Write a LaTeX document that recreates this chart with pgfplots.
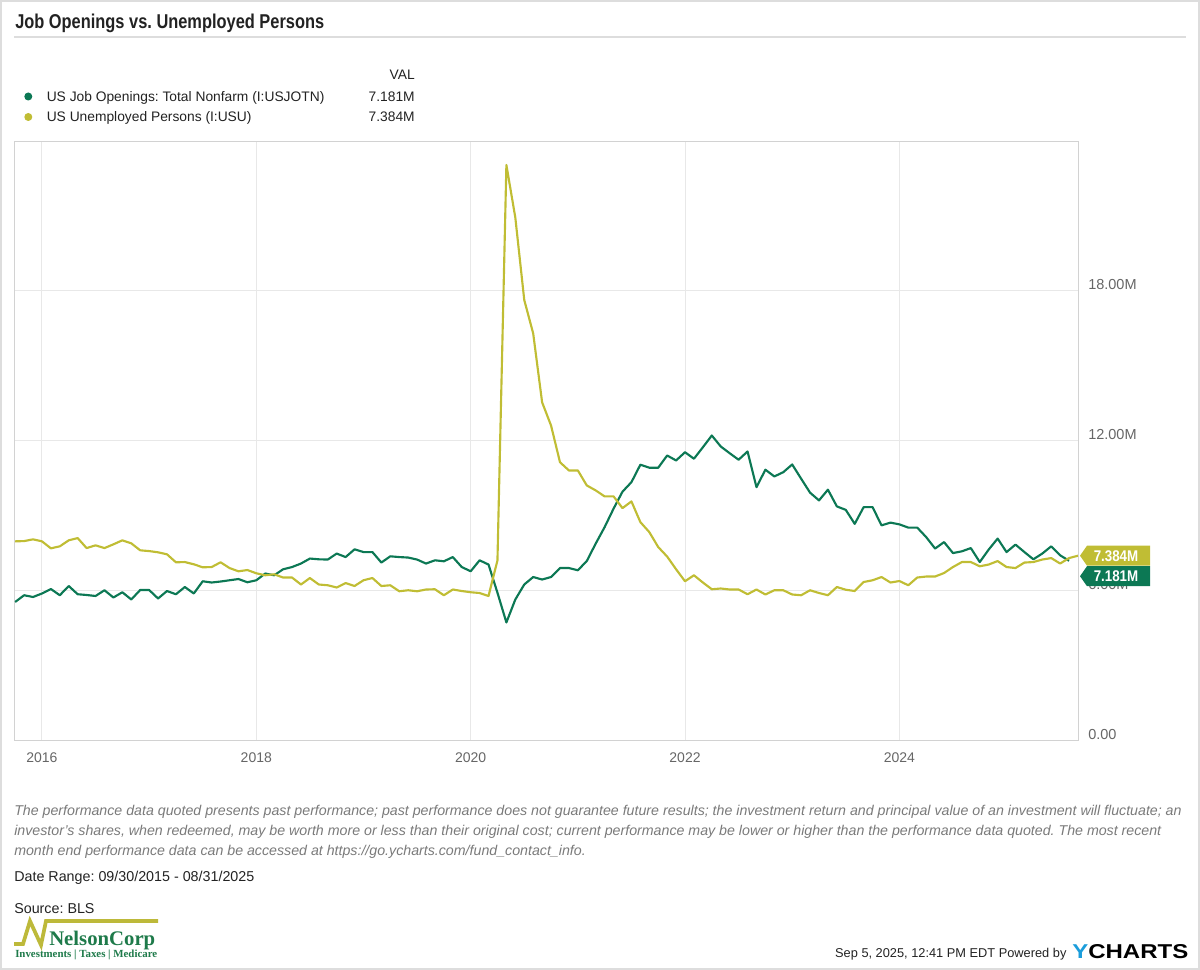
\documentclass[border=0pt]{standalone}
\usepackage{fontspec}
\setmainfont{Liberation Sans}
\newfontfamily\logoserif{Liberation Serif}
\usepackage{graphicx}
\usepackage{pgfplots}
\usepackage{pgfplotstable}
\pgfplotsset{compat=1.18}
\frenchspacing

\definecolor{jogreen}{HTML}{0C7854}
\definecolor{unyellow}{HTML}{C0BD34}
\definecolor{tickgray}{HTML}{666666}
\definecolor{gridgray}{HTML}{E8E8E8}
\definecolor{axisgray}{HTML}{D2D2D2}
\definecolor{framegray}{HTML}{DDDDDD}
\definecolor{notegray}{HTML}{7A7A7A}
\definecolor{darktext}{HTML}{222222}
\definecolor{ycblue}{HTML}{1B9DDB}
\definecolor{ncgreen}{HTML}{1E7A4A}
\definecolor{ncyellow}{HTML}{BDB93A}

% font size given in pixels of the reference (1px = 0.75pt)
\newcommand\px[1]{\fontsize{\fpeval{#1*0.75}pt}{\fpeval{#1*0.9}pt}\selectfont}

% m = months since 09/2015 (month-end), values in millions
\pgfplotstableread{
m   jo     un
0   5.53   7.96
1   5.80   7.97
2   5.73   8.04
3   5.87   7.96
4   6.05   7.68
5   5.80   7.76
6   6.17   8.00
7   5.84   8.09
8   5.81   7.69
9   5.77   7.80
10  6.00   7.69
11  5.71   7.84
12  5.92   8.00
13  5.63   7.88
14  6.01   7.60
15  6.01   7.57
16  5.67   7.52
17  5.97   7.44
18  5.84   7.12
19  6.13   7.13
20  5.87   7.04
21  6.36   6.92
22  6.31   6.93
23  6.35   7.12
24  6.40   6.89
25  6.45   6.76
26  6.32   6.81
27  6.40   6.68
28  6.67   6.60
29  6.60   6.64
30  6.84   6.51
31  6.93   6.51
32  7.07   6.23
33  7.27   6.49
34  7.24   6.23
35  7.23   6.20
36  7.47   6.11
37  7.33   6.29
38  7.64   6.17
39  7.53   6.40
40  7.53   6.49
41  7.11   6.17
42  7.36   6.20
43  7.33   5.96
44  7.31   6.00
45  7.23   5.96
46  7.07   6.03
47  7.20   6.04
48  7.16   5.80
49  7.33   6.03
50  6.93   5.97
51  6.76   5.92
52  7.20   5.89
53  7.03   5.77
54  5.90   7.20
55  4.71   23.04
56  5.63   20.93
57  6.23   17.63
58  6.53   16.29
59  6.43   13.53
60  6.53   12.60
61  6.89   11.13
62  6.89   10.80
63  6.80   10.80
64  7.17   10.20
65  7.87   10.00
66  8.53   9.76
67  9.27   9.76
68  9.95   9.29
69  10.33  9.56
70  11.03  8.73
71  10.91  8.33
72  10.91  7.73
73  11.40  7.35
74  11.20  6.84
75  11.53  6.36
76  11.27  6.60
77  11.73  6.31
78  12.20  6.04
79  11.76  6.07
80  11.49  6.03
81  11.23  6.03
82  11.56  5.84
83  10.13  6.03
84  10.83  5.83
85  10.56  6.00
86  10.73  6.00
87  11.04  5.83
88  10.47  5.80
89  9.91   6.00
90  9.60   5.89
91  10.03  5.80
92  9.36   6.13
93  9.22   6.02
94  8.66   5.97
95  9.33   6.33
96  9.33   6.40
97  8.60   6.53
98  8.71   6.31
99  8.64   6.37
100 8.51   6.20
101 8.51   6.51
102 8.13   6.55
103 7.67   6.55
104 7.93   6.69
105 7.49   6.93
106 7.56   7.13
107 7.69   7.13
108 7.13   6.96
109 7.63   7.03
110 8.07   7.17
111 7.53   6.93
112 7.83   6.89
113 7.53   7.11
114 7.24   7.13
115 7.47   7.23
116 7.76   7.29
117 7.40   7.07
118 7.181  7.29
119 nan    7.384
}\data

\begin{document}
\begin{tikzpicture}
\begin{axis}[
    at={(10.5pt,-555pt)}, anchor=south west,
    scale only axis, width=798pt, height=449.25pt,
    xmin=-0.13, xmax=119, ymin=0, ymax=24,
    xtick={3,27,51,75,99},
    xticklabels={2016,2018,2020,2022,2024},
    ytick={0,6,12,18},
    yticklabels={0.00,6.00M,12.00M,18.00M},
    yticklabel pos=right,
    xmajorgrids, ymajorgrids,
    grid style={gridgray, line width=0.75pt},
    major tick length=0pt,
    axis line style={axisgray, line width=0.75pt},
    tick label style={text=tickgray, inner sep=0pt},
    xticklabel style={font=\px{14}, anchor=base, yshift=-16.5pt},
    yticklabel style={font=\px{14.5}, anchor=base west, xshift=7.5pt, yshift=0.75pt},
]
\addplot[jogreen, line width=1.6pt, line join=round] table[x=m, y=jo] {\data};
\addplot[unyellow, line width=1.6pt, line join=round] table[x=m, y=un] {\data};
\coordinate (ytag) at (axis cs:119,7.384);
\end{axis}

\begin{scope}[x=0.75pt, y=-0.75pt]
\path (0,0) rectangle (1200,970);
\draw[framegray, line width=1.2pt] (1,1) rectangle (1199,969);

% title
\node[anchor=base west, inner sep=0, text=darktext] at (15,29)
    {\scalebox{0.82}[1]{\px{20}\bfseries Job Openings vs. Unemployed Persons}};
\draw[framegray, line width=1.5pt] (14,37) -- (1186,37);

% legend
\node[anchor=base east, inner sep=0, text=darktext] at (415,80) {\px{13.8}VAL};
\fill[jogreen] (28.3,96.5) circle (3pt);
\fill[unyellow] (28.3,117) circle (3pt);
\node[anchor=base west, inner sep=0, text=darktext] at (46.5,101.5)
    {\px{13.8}US Job Openings: Total Nonfarm (I:USJOTN)};
\node[anchor=base west, inner sep=0, text=darktext] at (46.5,122)
    {\px{13.8}US Unemployed Persons (I:USU)};
\node[anchor=base east, inner sep=0, text=darktext] at (415,101.5) {\px{13.8}7.181M};
\node[anchor=base east, inner sep=0, text=darktext] at (415,122) {\px{13.8}7.384M};

% last value tags
\fill[jogreen] ([shift={(2,20.5)}]ytag) -- ++(7,-10) -- ++(63,0) -- ++(0,20) -- ++(-63,0) -- cycle;
\fill[unyellow] ([shift={(2,0)}]ytag) -- ++(7,-10) -- ++(63,0) -- ++(0,20) -- ++(-63,0) -- cycle;
\node[text=white, inner sep=0] at ([shift={(38,0)}]ytag)
    {\scalebox{0.86}[1]{\px{15.5}\bfseries 7.384M}};
\node[text=white, inner sep=0] at ([shift={(38,20.5)}]ytag)
    {\scalebox{0.86}[1]{\px{15.5}\bfseries 7.181M}};

% footer
\node[anchor=base west, inner sep=0, text=notegray] at (14,815.5)
    {\px{14.2}\itshape The performance data quoted presents past performance; past performance does not guarantee future results; the investment return and principal value of an investment will fluctuate; an};
\node[anchor=base west, inner sep=0, text=notegray] at (14,835.5)
    {\px{14.2}\itshape investor’s shares, when redeemed, may be worth more or less than their original cost; current performance may be lower or higher than the performance data quoted. The most recent};
\node[anchor=base west, inner sep=0, text=notegray] at (14,855.5)
    {\px{14.2}\itshape month end performance data can be accessed at https://go.ycharts.com/fund\_contact\_info.};
\node[anchor=base west, inner sep=0, text=darktext] at (14,881.5)
    {\px{14.3}Date Range: 09/30/2015 - 08/31/2025};
\node[anchor=base west, inner sep=0, text=darktext] at (14,913)
    {\px{14.3}Source: BLS};

% NelsonCorp logo
\draw[ncyellow, line width=2.8pt, line join=miter] (14,944) -- (23,944) -- (30,921) -- (41,945) -- (46,921) -- (158,921);
\node[anchor=base west, inner sep=0] at (49,945)
    {\resizebox{79.5pt}{!}{\logoserif\bfseries\color{ncgreen}NelsonCorp}};
\node[anchor=base west, inner sep=0] at (15,957)
    {\resizebox{106.5pt}{!}{\logoserif\bfseries\color{ncgreen}Investments | Taxes | Medicare}};

% timestamp and ycharts
\node[anchor=base east, inner sep=0, text=darktext] at (1066.7,957)
    {\px{12.8}Sep 5, 2025, 12:41 PM EDT Powered by};
\node[anchor=base west, inner sep=0] at (1072,958)
    {\resizebox{87pt}{10.5pt}{\bfseries\textcolor{ycblue}{Y}\textcolor{black}{CHARTS}}};
\end{scope}
\end{tikzpicture}
\end{document}
